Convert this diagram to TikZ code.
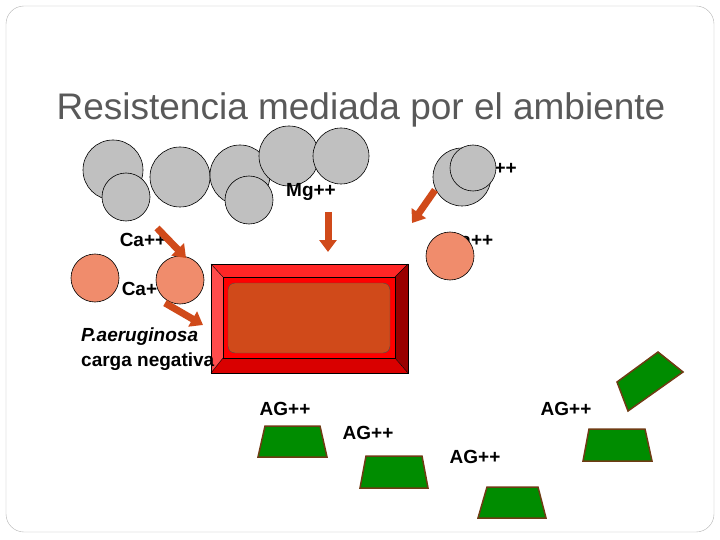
\documentclass[tikz,border=0pt]{standalone}
\usepackage{fontspec}
\setmainfont{Liberation Sans}
\usetikzlibrary{arrows.meta}
\definecolor{cellgray}{RGB}{192,192,192}
\definecolor{ionsalmon}{RGB}{240,140,108}
\definecolor{arrowbrown}{RGB}{208,74,26}
\definecolor{aggreen}{RGB}{0,140,0}
\definecolor{agedge}{RGB}{110,60,20}
\tikzset{
  ion/.style={circle, draw=black, semithick, inner sep=0pt},
  bigion/.style={ion, fill=cellgray, minimum size=60pt},
  smallion/.style={ion, fill=cellgray, minimum size=48pt},
  caion/.style={ion, fill=ionsalmon, minimum size=48pt},
  lbl/.style={font=\fontsize{19}{22}\selectfont\bfseries, inner sep=0pt},
  flow/.style={draw=arrowbrown, line width=7pt, -{Triangle[width=17pt,length=12pt]}},
  drug/.style={fill=aggreen, draw=agedge, line width=1.5pt}
}
\begin{document}
\begin{tikzpicture}[x=1pt,y=-1pt]
  % page and frame
  \useasboundingbox (0,0) rectangle (720,540);
  \draw[gray!60, rounded corners=18pt] (6,6) rectangle (714,532);
  \node[text=black!65, font=\fontsize{37}{42}\selectfont] (title) at (361,110) {Resistencia mediada por el ambiente};

  % labels that sit behind the ions
  \node[lbl] (mgtop) at (492,170) {Mg++};
  \node[lbl] (cat) at (470,240) {Ca++};
  \node[lbl] (caa) at (143,240) {Ca++};
  \node[lbl] (cab) at (145,289) {Ca++};

  % divalent ions around the cell
  \node[bigion] (g1) at (113,170) {};
  \node[smallion] (g2) at (126,197) {};
  \node[bigion] (g3) at (180,177) {};
  \node[bigion] (g4) at (240,175) {};
  \node[smallion] (g5) at (249,200) {};
  \node[bigion] (g6) at (289,156) {};
  \node[ion, fill=cellgray, minimum size=56pt] (g7) at (341,156) {};
  \node[ion, fill=cellgray, minimum size=58pt] (g8) at (462,177) {};
  \node[ion, fill=cellgray, minimum size=46pt] (g9) at (473,168) {};
  \node[lbl] (mg) at (311,192) {Mg++};
  \node[caion] (s1) at (95,278) {};
  \node[caion] (s2) at (180,280) {};
  \node[caion] (s3) at (450,256) {};

  % the cell
  \fill[red!70!white] (211,264) -- (223,277) -- (223,358) -- (211,373) -- cycle;
  \fill[red!85!white] (211,264) -- (408,264) -- (395,277) -- (223,277) -- cycle;
  \fill[red!60!black] (408,264) -- (408,373) -- (395,358) -- (395,277) -- cycle;
  \fill[red!85!black] (211,373) -- (223,358) -- (395,358) -- (408,373) -- cycle;
  \fill[red] (223,277) rectangle (395,358);
  \draw[thin] (211,264) rectangle (408,373);
  \draw[thin] (223,277) rectangle (395,358);
  \draw[thin] (211,264) -- (223,277) (408,264) -- (395,277) (211,373) -- (223,358) (408,373) -- (395,358);
  \node[draw=black!70, thin, fill=arrowbrown, rounded corners=7pt, minimum width=162pt, minimum height=70pt] (cell) at (309,318) {};

  % movement of the ions
  \coordinate (a1s) at (157,228); \coordinate (a1e) at (186,258);
  \coordinate (a2s) at (328,212); \coordinate (a2e) at (328,252);
  \coordinate (a3s) at (435,190); \coordinate (a3e) at (412,223);
  \coordinate (a4s) at (165,303); \coordinate (a4e) at (203,325);
  \draw[flow] (a1s) -- (a1e);
  \draw[flow] (a2s) -- (a2e);
  \draw[flow] (a3s) -- (a3e);
  \draw[flow] (a4s) -- (a4e);

  \node[lbl, anchor=west, font=\fontsize{19}{22}\selectfont\bfseries\itshape] (pa) at (81,337) {P.aeruginosa};
  \node[lbl, anchor=west] (neg) at (81,362) {carga negativa};

  % aminoglycosides
  \foreach \lx/\ly in {285/409, 368/433, 475/457, 566/409}
    \node[lbl] at (\lx,\ly) {AG++};
  \draw[drug] (265,426) -- (320,426) -- (327,457) -- (258,457) -- cycle;
  \draw[drug] (366,456) -- (422,456) -- (428,488) -- (360,488) -- cycle;
  \draw[drug] (487,487) -- (538,487) -- (546,518) -- (478,518) -- cycle;
  \draw[drug] (589,429) -- (645,429) -- (652,461) -- (583,461) -- cycle;
  \draw[drug] (617,382) -- (658,352) -- (683,372) -- (628,411) -- cycle;
\end{tikzpicture}
\end{document}
